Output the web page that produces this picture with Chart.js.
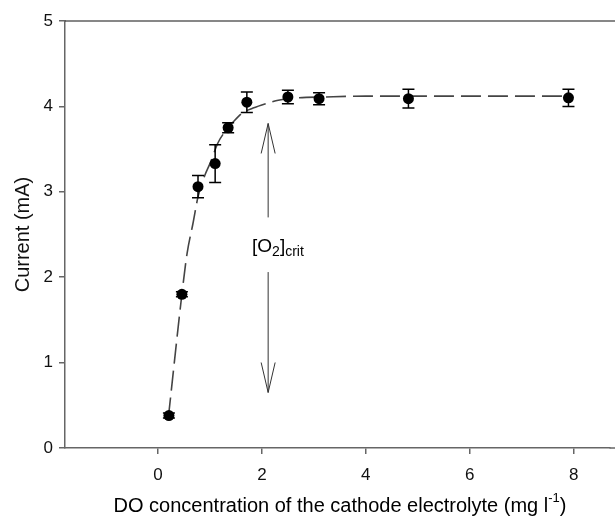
<!DOCTYPE html>
<html>
<head>
<meta charset="utf-8">
<script src="https://cdn.jsdelivr.net/npm/chart.js@4.4.0/dist/chart.umd.min.js"></script>
<style>
  html, body { margin: 0; padding: 0; background: #fff; }
  #wrap { width: 615px; height: 520px; }
</style>
</head>
<body>
<div id="wrap"><canvas id="chart"></canvas></div>
<script>
// measured points (DO in mg/l, current in mA) with error bars
const doConc = [0.21, 0.46, 0.77, 1.10, 1.35, 1.71, 2.50, 3.10, 4.82, 7.90];
const current = [0.38, 1.80, 3.06, 3.33, 3.75, 4.05, 4.11, 4.09, 4.09, 4.10];
const currentErr = [0.03, 0.03, 0.13, 0.22, 0.06, 0.12, 0.08, 0.07, 0.11, 0.10];

// dashed fitted curve
const fitX = [0.20, 0.46, 0.56, 0.67, 0.77, 0.90, 1.00, 1.16, 1.35, 1.45, 1.62, 1.83, 2.12, 2.29, 2.68, 3.20, 4.00, 5.50, 7.90];
const fitY = [0.36, 1.80, 2.28, 2.62, 2.94, 3.19, 3.33, 3.58, 3.75, 3.82, 3.92, 3.98, 4.04, 4.07, 4.10, 4.11, 4.12, 4.12, 4.12];

const xTicks = [0, 2, 4, 6, 8];
const yTicks = [0, 1, 2, 3, 4, 5];

// [O2]crit arrows: x position, upper arrow (from, tip), lower arrow (from, tip)
const critX = 2.12;
const critUp = [2.70, 3.80];
const critDown = [2.06, 0.65];

const font = '"Liberation Sans", Arial, sans-serif';
const axisColor = '#666';

const errorBars = {
  id: 'errorBars',
  afterDatasetsDraw(chart) {
    const { ctx, scales: { x, y } } = chart;
    ctx.save();
    ctx.strokeStyle = '#000';
    ctx.lineWidth = 1.5;
    doConc.forEach((v, i) => {
      const px = x.getPixelForValue(v);
      const top = y.getPixelForValue(current[i] + currentErr[i]);
      const bot = y.getPixelForValue(current[i] - currentErr[i]);
      ctx.beginPath();
      ctx.moveTo(px, top); ctx.lineTo(px, bot);
      ctx.moveTo(px - 6, top); ctx.lineTo(px + 6, top);
      ctx.moveTo(px - 6, bot); ctx.lineTo(px + 6, bot);
      ctx.stroke();
    });
    ctx.restore();
  }
};

const extras = {
  id: 'extras',
  afterDraw(chart) {
    const { ctx, chartArea, width, scales: { x, y } } = chart;
    ctx.save();
    // frame lines run off the right edge of the figure
    ctx.strokeStyle = '#111';
    ctx.lineWidth = 1.2;
    ctx.beginPath();
    ctx.moveTo(chartArea.left, chartArea.top);
    ctx.lineTo(width, chartArea.top);
    ctx.stroke();
    ctx.strokeStyle = axisColor;
    ctx.lineWidth = 1.5;
    ctx.beginPath();
    ctx.moveTo(chartArea.right, chartArea.bottom);
    ctx.lineTo(width, chartArea.bottom);
    ctx.stroke();

    // arrows
    const ax = x.getPixelForValue(critX);
    const arrow = (from, tip) => {
      const p0 = y.getPixelForValue(from);
      const p1 = y.getPixelForValue(tip);
      const dir = p1 < p0 ? 1 : -1;
      ctx.beginPath();
      ctx.moveTo(ax, p0); ctx.lineTo(ax, p1);
      ctx.moveTo(ax - 7, p1 + dir * 30); ctx.lineTo(ax, p1); ctx.lineTo(ax + 7, p1 + dir * 30);
      ctx.stroke();
    };
    ctx.strokeStyle = '#333';
    ctx.lineWidth = 1;
    arrow(critUp[0], critUp[1]);
    arrow(critDown[0], critDown[1]);

    // [O2]crit label
    ctx.fillStyle = '#000';
    ctx.textBaseline = 'alphabetic';
    ctx.textAlign = 'left';
    let lx = x.getPixelForValue(1.81);
    const ly = y.getPixelForValue(2.29);
    const big = '19px ' + font, small = '14px ' + font;
    const parts = [['[O', big, 0], ['2', small, 4], [']', big, 0], ['crit', small, 4]];
    parts.forEach(([t, f, dy]) => {
      ctx.font = f;
      ctx.fillText(t, lx, ly + dy);
      lx += ctx.measureText(t).width;
    });

    // x axis title with superscript
    const main = 'DO concentration of the cathode electrolyte (mg l';
    ctx.font = '20px ' + font;
    const w1 = ctx.measureText(main).width;
    ctx.font = '13px ' + font;
    const w2 = ctx.measureText('-1').width;
    ctx.font = '20px ' + font;
    const w3 = ctx.measureText(')').width;
    let tx = (chartArea.left + width) / 2 - (w1 + w2 + w3) / 2;
    const ty = 512;
    ctx.fillText(main, tx, ty);
    tx += w1;
    ctx.font = '13px ' + font;
    ctx.fillText('-1', tx, ty - 10);
    tx += w2;
    ctx.font = '20px ' + font;
    ctx.fillText(')', tx, ty);
    ctx.restore();
  }
};

new Chart(document.querySelector('#chart'), {
  type: 'scatter',
  data: {
    datasets: [
      {
        label: 'Current',
        data: doConc.map((v, i) => ({ x: v, y: current[i] })),
        pointRadius: 5.5,
        pointBackgroundColor: '#000',
        pointBorderColor: '#000',
        pointBorderWidth: 0,
        showLine: false,
        order: 0
      },
      {
        label: 'Fit',
        data: fitX.map((v, i) => ({ x: v, y: fitY[i] })),
        showLine: true,
        pointRadius: 0,
        borderColor: '#444',
        borderWidth: 1.6,
        borderDash: [20, 7],
        cubicInterpolationMode: 'monotone',
        order: 1
      }
    ]
  },
  options: {
    responsive: true,
    maintainAspectRatio: false,
    animation: false,
    layout: { padding: { top: 21, right: 0, left: 0, bottom: 0 } },
    plugins: {
      legend: { display: false },
      tooltip: { enabled: false }
    },
    scales: {
      x: {
        type: 'linear',
        min: -1.79,
        max: 8.69,
        afterBuildTicks: scale => { scale.ticks = xTicks.map(v => ({ value: v })); },
        afterFit: scale => { scale.height = 72; },
        border: { color: axisColor, width: 1.5 },
        grid: { drawOnChartArea: false, color: axisColor, lineWidth: 1.5, tickLength: 6 },
        ticks: { color: '#111', font: { family: font, size: 17 }, padding: 11 }
      },
      y: {
        min: 0,
        max: 5,
        afterBuildTicks: scale => { scale.ticks = yTicks.map(v => ({ value: v })); },
        afterFit: scale => { scale.width = 65; },
        border: { color: axisColor, width: 1.5 },
        grid: { drawOnChartArea: false, color: axisColor, lineWidth: 1.5, tickLength: 6 },
        ticks: { color: '#111', font: { family: font, size: 17 }, padding: 6 },
        title: {
          display: true,
          text: 'Current (mA)',
          color: '#111',
          font: { family: font, size: 20 },
          padding: { top: 11, bottom: 0 }
        }
      }
    }
  },
  plugins: [errorBars, extras]
});
</script>
</body>
</html>
